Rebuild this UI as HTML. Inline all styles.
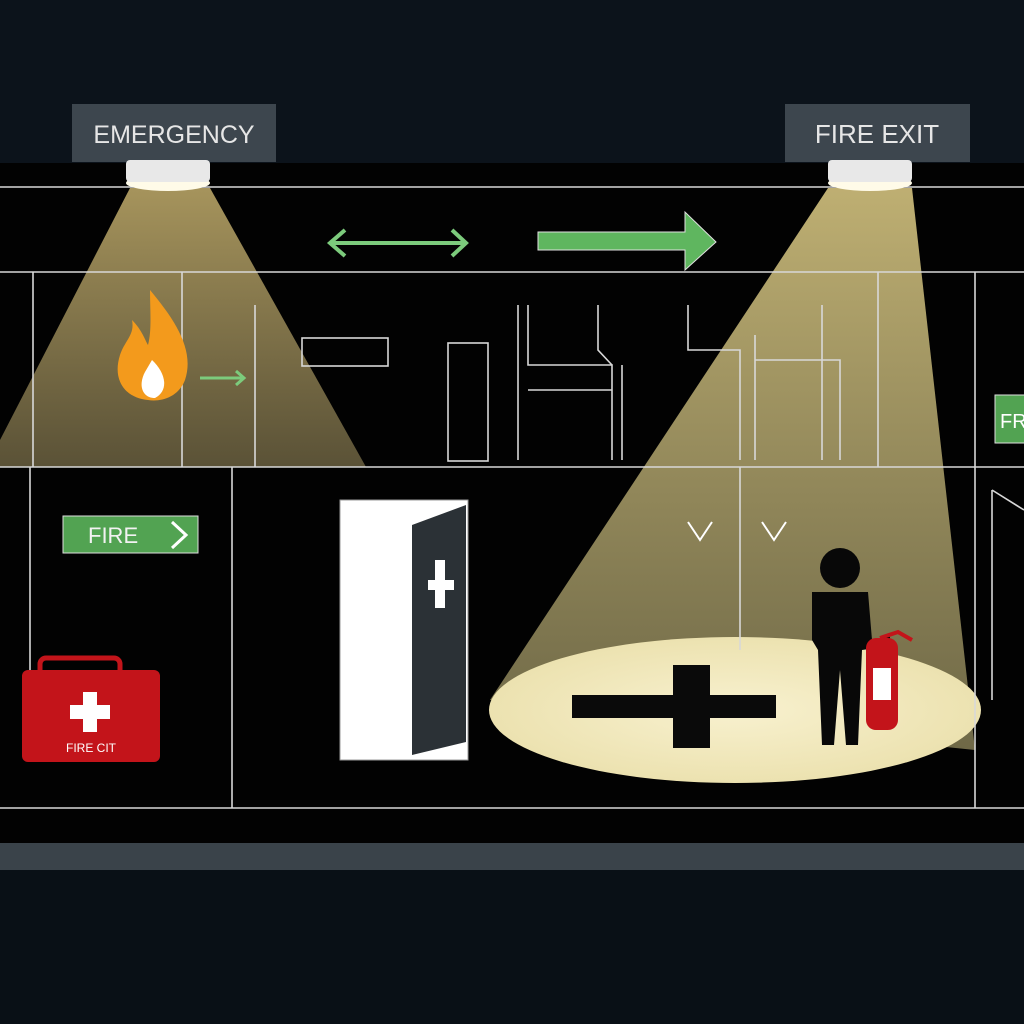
<!DOCTYPE html>
<html><head><meta charset="utf-8"><style>
html,body{margin:0;padding:0;background:#0c131b;}
svg{display:block}
text{font-family:"Liberation Sans",sans-serif}
</style></head><body>
<svg width="1024" height="1024" viewBox="0 0 1024 1024">
<defs>
<linearGradient id="c1" x1="0" y1="0" x2="0" y2="1">
<stop offset="0" stop-color="#b8a466" stop-opacity="0.9"/>
<stop offset="1" stop-color="#6a6040" stop-opacity="0.85"/>
</linearGradient>
<linearGradient id="c2" x1="0" y1="0" x2="0" y2="1">
<stop offset="0" stop-color="#c8b878" stop-opacity="0.95"/>
<stop offset="1" stop-color="#8a8258" stop-opacity="0.8"/>
</linearGradient>
<radialGradient id="fl" cx="0.5" cy="0.5" r="0.5">
<stop offset="0" stop-color="#f8f1cf"/>
<stop offset="1" stop-color="#ece2b0"/>
</radialGradient>
</defs>
<rect width="1024" height="1024" fill="#0c131b"/>
<rect x="0" y="163" width="1024" height="680" fill="#020202"/>
<rect x="0" y="843" width="1024" height="27" fill="#3a434a"/>
<rect x="0" y="870" width="1024" height="154" fill="#091016"/>

<!-- cones -->
<polygon points="130,188 210,188 366,467 0,467 0,440" fill="url(#c1)"/>
<polygon points="828,188 912,188 975,750 490,700" fill="url(#c2)"/>
<ellipse cx="735" cy="710" rx="246" ry="73" fill="url(#fl)"/>

<!-- lines -->
<g stroke="#d8d8d8" stroke-width="1.6" fill="none">
<line x1="0" y1="187" x2="1024" y2="187"/>
<line x1="0" y1="272" x2="1024" y2="272"/>
<line x1="0" y1="467" x2="1024" y2="467"/>
<line x1="0" y1="808" x2="1024" y2="808"/>
<line x1="33" y1="272" x2="33" y2="467"/>
<line x1="182" y1="272" x2="182" y2="467"/>
<line x1="255" y1="305" x2="255" y2="467"/>
<line x1="975" y1="272" x2="975" y2="808"/>
<line x1="30" y1="467" x2="30" y2="670"/>
<line x1="232" y1="467" x2="232" y2="808"/>
<line x1="740" y1="467" x2="740" y2="650"/>
<line x1="878" y1="272" x2="878" y2="467"/>
<rect x="302" y="338" width="86" height="28"/>
<rect x="448" y="343" width="40" height="118"/>
<polyline points="518,305 518,460"/>
<polyline points="528,305 528,365 612,365 612,460"/>
<polyline points="598,305 598,350 612,365"/>
<polyline points="622,365 622,460 M622,390 720,390"/>
<polyline points="528,390 612,390"/>
<polyline points="688,305 688,350 740,350 740,460"/>
<polyline points="755,360 840,360 840,460"/>
<polyline points="755,335 755,460"/>
<polyline points="822,305 822,460"/>
<polyline points="992,490 1024,510"/>
<line x1="992" y1="490" x2="992" y2="700"/>
</g>

<!-- signs -->
<rect x="72" y="104" width="204" height="58" fill="#3d464e"/>
<text x="174" y="143" font-size="25" fill="#e6e6e6" text-anchor="middle">EMERGENCY</text>
<rect x="785" y="104" width="185" height="58" fill="#3d464e"/>
<text x="877" y="143" font-size="26" fill="#e6e6e6" text-anchor="middle">FIRE EXIT</text>

<!-- lamps -->
<ellipse cx="168" cy="183" rx="42" ry="8" fill="#fffbe8"/>
<rect x="126" y="160" width="84" height="22" rx="4" fill="#e8e8e8"/>
<ellipse cx="870" cy="183" rx="42" ry="8" fill="#fffbe8"/>
<rect x="828" y="160" width="84" height="22" rx="4" fill="#e8e8e8"/>

<!-- arrows top -->
<g stroke="#7ccb7c" stroke-width="4" fill="none">
<line x1="330" y1="243" x2="466" y2="243"/>
<polyline points="345,230 330,243 345,256"/>
<polyline points="452,230 466,243 452,256"/>
</g>
<polygon points="538,232 685,232 685,212 716,242 685,270 685,250 538,250" fill="#5fb65f" stroke="#e0e0e0" stroke-width="1"/>

<!-- flame -->
<path d="M150,290 C175,320 195,350 185,380 C178,398 160,402 148,400 C125,398 112,380 120,355 C125,340 135,335 132,320 C142,330 145,340 148,345 C152,330 150,310 150,290 Z" fill="#f39a1c"/>
<path d="M152,360 C165,372 170,390 155,398 C142,398 138,385 145,372 Z" fill="#fff"/>
<g stroke="#7ccb7c" stroke-width="3" fill="none"><line x1="200" y1="378" x2="244" y2="378"/><polyline points="236,371 244,378 236,385"/></g>

<!-- fire sign -->
<rect x="63" y="516" width="135" height="37" fill="#52a352" stroke="#ddd" stroke-width="1"/>
<text x="88" y="543" font-size="22" fill="#f2f2f2">FIRE</text>
<polyline points="172,522 186,535 172,548" stroke="#fff" stroke-width="3" fill="none"/>

<!-- first aid kit -->
<rect x="40" y="658" width="80" height="18" rx="6" fill="none" stroke="#c3141a" stroke-width="5"/>
<rect x="22" y="670" width="138" height="92" rx="6" fill="#c3141a"/>
<rect x="83" y="692" width="14" height="40" fill="#fff"/>
<rect x="70" y="705" width="40" height="14" fill="#fff"/>
<text x="91" y="752" font-size="12" fill="#fff" text-anchor="middle">FIRE CIT</text>

<!-- door -->
<rect x="340" y="500" width="128" height="260" fill="#fff" stroke="#999"/>
<polygon points="412,525 466,505 466,742 412,755" fill="#2b3136"/>
<rect x="435" y="560" width="10" height="48" fill="#fff"/>
<rect x="428" y="580" width="26" height="10" fill="#fff"/>

<!-- small arrows -->
<g stroke="#fff" stroke-width="2" fill="none">
<polyline points="688,522 700,540 712,522"/>
<polyline points="762,522 774,540 786,522"/>
</g>

<!-- cross on floor -->
<rect x="572" y="695" width="204" height="23" fill="#0a0a0a"/>
<rect x="673" y="665" width="37" height="83" fill="#0a0a0a"/>

<!-- person -->
<circle cx="840" cy="568" r="20" fill="#080808"/>
<path d="M812,592 L868,592 L872,640 L890,636 L890,646 L862,650 L858,745 L846,745 L840,670 L834,745 L822,745 L818,650 L812,640 Z" fill="#080808"/>
<rect x="866" y="638" width="32" height="92" rx="10" fill="#c3141a"/>
<rect x="873" y="668" width="18" height="32" fill="#fff"/>
<path d="M880,638 L898,632 L912,640" stroke="#c3141a" stroke-width="4" fill="none"/>

<!-- right edge sign -->
<rect x="995" y="395" width="40" height="48" fill="#52a352" stroke="#ddd"/>
<text x="1000" y="428" font-size="20" fill="#fff">FR</text>
</svg>
</body></html>
